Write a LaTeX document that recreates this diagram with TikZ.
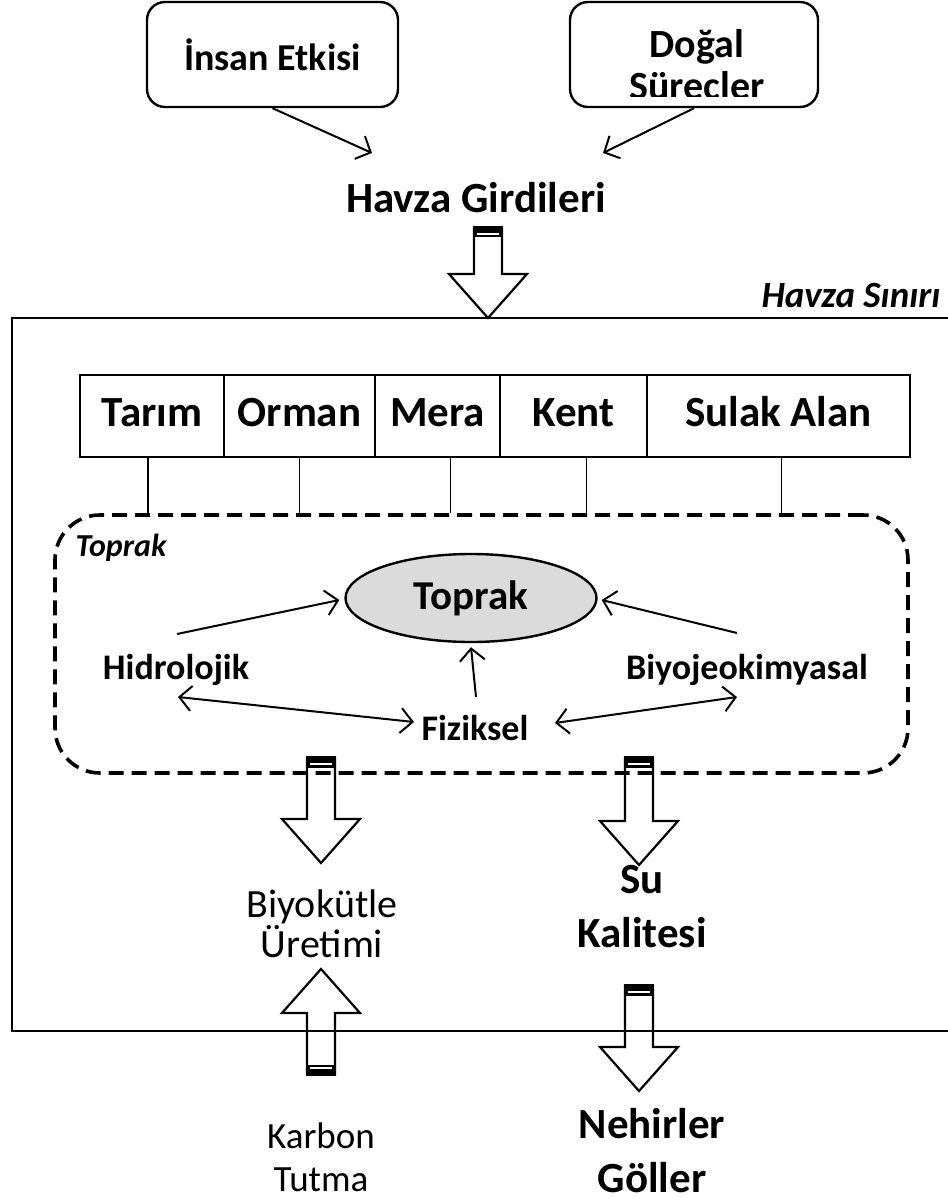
\documentclass[tikz,border=0pt]{standalone}
\usepackage{fontspec}
\setmainfont{Carlito}
\usetikzlibrary{arrows.meta}
\usetikzlibrary{positioning}
\usetikzlibrary{shapes.geometric}

\tikzset{
    barb/.style={-{Straight Barb[length=12pt,width=25pt,line width=2pt]}, line width=2pt},
    dbarb/.style={{Straight Barb[length=12pt,width=25pt,line width=2pt]}-{Straight Barb[length=12pt,width=25pt,line width=2pt]}, line width=2pt},
    big/.style={font=\fontsize{43}{54}\selectfont\bfseries, align=center},
    small/.style={font=\fontsize{36}{42}\selectfont\bfseries},
    plain/.style={font=\fontsize{40}{40}\selectfont, align=center},
    cell/.style={draw, line width=1.6pt, minimum height=82pt, inner sep=0pt, outer sep=0pt, text height=29pt, text depth=8pt, font=\fontsize{43}{50}\selectfont\bfseries},
    pics/bigarrow/.style={code={
        \draw[line width=2.2pt, line join=miter] (-14,0) -- (-14,#1-44) -- (-39,#1-44) -- (0,#1) -- (39,#1-44) -- (14,#1-44) -- (14,0);
        \fill (-15.1,-1) rectangle (15.1,10.5);
        \draw[white, line width=2pt] (-11,7.3) -- (11,7.3);
    }}
}

\begin{document}
\begin{tikzpicture}[x=1pt, y=-1pt]
    \useasboundingbox (0,0) rectangle (947,1198);

    % inputs
    \node[draw, rounded corners=18pt, line width=2.4pt, minimum width=251pt, minimum height=105pt, font=\fontsize{38}{45}\selectfont\bfseries] (insan) at (272.5,54.5) {İnsan Etkisi};
    \node[draw, rounded corners=18pt, line width=2.4pt, minimum width=248pt, minimum height=105pt] (dogal) at (694,54.5) {};
    \begin{scope}
        \clip (572,4) rectangle (816,97);
        \node[font=\fontsize{40}{42}\selectfont\bfseries, align=center] (dogaltxt) at (697,68) {Doğal\\Süreçler};
    \end{scope}

    \node[big] (girdi) at (476,198) {Havza Girdileri};
    \coordinate (gin1) at (372,153);
    \coordinate (gin2) at (603,153);
    \draw[barb] (insan.south) -- (gin1);
    \draw[barb] (dogal.south) -- (gin2);

    % watershed
    \draw[line width=2.4pt] (960,318) -- (12,318) -- (12,1031) -- (960,1031);
    \node[font=\fontsize{37}{44}\selectfont\bfseries\itshape, anchor=east] (sinir) at (944,296) {Havza Sınırı};

    \node[cell, minimum width=144pt] (tarim) at (152,416) {Tarım};
    \node[cell, minimum width=151pt, right=0pt of tarim] (orman) {Orman};
    \node[cell, minimum width=125pt, right=0pt of orman] (mera) {Mera};
    \node[cell, minimum width=147pt, right=0pt of mera] (kent) {Kent};
    \node[cell, minimum width=263pt, right=0pt of kent] (sulak) {Sulak Alan};

    \node[draw, dashed, dash pattern=on 15pt off 8pt, line width=3.6pt, rounded corners=45pt, minimum width=853pt, minimum height=258pt] (toprakbox) at (481.5,644) {};
    \node[font=\fontsize{32}{38}\selectfont\bfseries\itshape] (topraklbl) at (121,548) {Toprak};

    \draw[line width=1.4pt] ([xshift=-4pt]tarim.south) -- ([xshift=-4pt]tarim.south |- toprakbox.north);
    \draw[line width=1.4pt] (orman.south) -- (orman.south |- toprakbox.north);
    \draw[line width=1.4pt] ([xshift=13pt]mera.south) -- ([xshift=13pt]mera.south |- toprakbox.north);
    \draw[line width=1.4pt] ([xshift=13pt]kent.south) -- ([xshift=13pt]kent.south |- toprakbox.north);
    \draw[line width=1.4pt] ([xshift=3pt]sulak.south) -- ([xshift=3pt]sulak.south |- toprakbox.north);

    \node[ellipse, draw, line width=2.4pt, fill=gray!28, minimum width=251pt, minimum height=88pt, font=\fontsize{41}{48}\selectfont\bfseries] (toprak) at (471,598) {Toprak};
    \node[small] (hidro) at (176,670) {Hidrolojik};
    \node[small] (biyo) at (747,670) {Biyojeokimyasal};
    \node[small] (fiz) at (475,728) {Fiziksel};

    \coordinate (h1) at (177,634);
    \coordinate (h2) at (178,697);
    \coordinate (b1) at (737,633);
    \coordinate (b2) at (737,697);
    \coordinate (f1) at (476,697);
    \coordinate (f2) at (414,722);
    \coordinate (f3) at (555,723);
    \draw[barb] (h1) -- ([xshift=-5pt,yshift=-2pt]toprak.west);
    \draw[barb] (b1) -- ([xshift=4pt,yshift=-2pt]toprak.east);
    \draw[barb] (f1) -- ([yshift=-4pt]toprak.south);
    \draw[dbarb] (h2) -- (f2);
    \draw[dbarb] (f3) -- (b2);

    % outputs
    \pic at (488,227) {bigarrow=91};
    \pic at (321,757) {bigarrow=106};
    \pic at (639,757) {bigarrow=108};
    \pic at (639,985) {bigarrow=106};
    \pic[rotate=180] at (321,1075) {bigarrow=106};

    \node[plain] (biyokutle) at (322,924) {Biyokütle\\Üretimi};
    \node[big] (su) at (642,907) {Su\\Kalitesi};
    \node[plain, inner sep=1pt, font=\fontsize{37}{43}\selectfont] (karbon) at (321,1157) {Karbon\\Tutma};
    \node[big, inner sep=1pt] (nehir) at (652,1151) {Nehirler\\Göller};
\end{tikzpicture}
\end{document}
